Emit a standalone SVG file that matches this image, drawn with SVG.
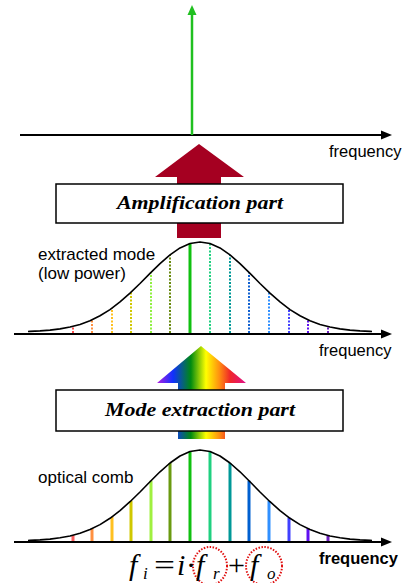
<svg xmlns="http://www.w3.org/2000/svg" width="409" height="583" viewBox="0 0 409 583">
<defs>
<linearGradient id="rainbow" gradientUnits="userSpaceOnUse" x1="157" y1="0" x2="246" y2="0">
<stop offset="0" stop-color="#B020E0"/>
<stop offset="0.18" stop-color="#1030FF"/>
<stop offset="0.38" stop-color="#008A10"/>
<stop offset="0.55" stop-color="#FFFF00"/>
<stop offset="0.7" stop-color="#FF9010"/>
<stop offset="0.82" stop-color="#F02828"/>
<stop offset="1" stop-color="#E0108A"/>
</linearGradient>
</defs>
<style>
.axis{stroke:#000;stroke-width:2;fill:none}
.head{fill:#000}
.lbl{font-family:"Liberation Sans",Arial,sans-serif;font-size:17px;fill:#000}
.freq{font-family:"Liberation Sans",Arial,sans-serif;font-size:16.5px;fill:#000}
.box{fill:#fff;stroke:#000;stroke-width:1.5}
.boxtxt{font-family:"Liberation Serif","Times New Roman",serif;font-size:18px;font-weight:bold;font-style:italic;fill:#000}
.curve{fill:none;stroke:#000;stroke-width:1.6;stroke-linejoin:round}
.dot{stroke-width:2;stroke-dasharray:2 1.5;fill:none}
.comb{stroke-width:3;fill:none}
.math{font-family:"Liberation Serif","Times New Roman",serif;font-size:30px;fill:#000}
.it{font-style:italic}
.sub{font-size:17px;font-style:italic}
.circ{fill:none;stroke:#E01010;stroke-width:2;stroke-dasharray:1.5 1.5}
</style>

<g id="top-spectrum">
<line class="axis" x1="20" y1="135" x2="383" y2="135"/>
<polygon class="head" points="381,130.5 392,135 381,139.5"/>
<line x1="192" y1="135" x2="192" y2="13" stroke="#20C020" stroke-width="2.5"/>
<polygon points="192,5 187.5,15 196.5,15" fill="#20C020"/>
<text class="freq" x="329" y="157">frequency</text>
</g>

<g id="amp-arrow">
<polygon fill="#A50021" points="199,144 244,177 221,177 221,238 177,238 177,177 155,177"/>
</g>

<g id="amplification-box">
<rect class="box" x="56" y="184" width="287" height="39"/>
<text class="boxtxt" x="117" y="209" textLength="166" lengthAdjust="spacingAndGlyphs">Amplification part</text>
</g>

<g id="extracted-spectrum">
<line class="axis" x1="14" y1="334" x2="383" y2="334"/>
<polygon class="head" points="381,329.5 392,334 381,338.5"/>
<line class="dot" stroke="#FF5050" x1="73" y1="333" x2="73" y2="326.3"/>
<line class="dot" stroke="#FF9040" x1="92" y1="333" x2="92" y2="319.8"/>
<line class="dot" stroke="#FFC020" x1="112" y1="333" x2="112" y2="308.1"/>
<line class="dot" stroke="#D0C800" x1="131" y1="333" x2="131" y2="292.2"/>
<line class="dot" stroke="#90F040" x1="151" y1="333" x2="151" y2="272.4"/>
<line class="dot" stroke="#6A8A10" x1="170" y1="333" x2="170" y2="254.9"/>
<line stroke="#10C010" stroke-width="3" x1="190" y1="333" x2="190" y2="243.5"/>
<line class="dot" stroke="#20D080" x1="210" y1="333" x2="210" y2="243.5"/>
<line class="dot" stroke="#009898" x1="230" y1="333" x2="230" y2="254.9"/>
<line class="dot" stroke="#1060D0" x1="249" y1="333" x2="249" y2="272.4"/>
<line class="dot" stroke="#3090FF" x1="269" y1="333" x2="269" y2="292.2"/>
<line class="dot" stroke="#4040FF" x1="289" y1="333" x2="289" y2="308.9"/>
<line class="dot" stroke="#6010F0" x1="308" y1="333" x2="308" y2="319.8"/>
<line class="dot" stroke="#7020C0" x1="328" y1="333" x2="328" y2="326.6"/>
<polyline class="curve" points="28,331.5 30,331.4 40,330.9 50,330.1 60,328.9 70,327 80,324.4 90,320.7 100,315.8 110,309.6 120,301.9 130,293.1 140,283.5 150,273.4 160,263.6 170,254.9 180,247.9 190,243.5 200,242 210,243.5 220,247.9 230,254.9 240,263.6 250,273.4 260,283.5 270,293.1 280,301.9 290,309.6 300,315.8 310,320.7 320,324.4 330,327 340,328.9 350,330.1 360,330.9 370,331.4 372,331.5"/>
<text class="lbl" x="38" y="260">extracted mode</text>
<text class="lbl" x="38" y="279">(low power)</text>
<text class="freq" x="319" y="356">frequency</text>
</g>

<g id="rainbow-arrow">
<polygon fill="url(#rainbow)" points="201,346 246,383 225,383 225,439 178,439 178,383 157,383"/>
</g>

<g id="mode-extraction-box">
<rect class="box" x="56" y="390" width="287" height="41"/>
<text class="boxtxt" x="105" y="416" textLength="190" lengthAdjust="spacingAndGlyphs">Mode extraction part</text>
</g>

<g id="optical-comb">
<line class="axis" x1="14" y1="542" x2="383" y2="542"/>
<polygon class="head" points="381,537.5 392,542 381,546.5"/>
<line class="comb" stroke="#FF6060" x1="73" y1="541" x2="73" y2="535.3"/>
<line class="comb" stroke="#FF9040" x1="92" y1="541" x2="92" y2="528.7"/>
<line class="comb" stroke="#FFC020" x1="112" y1="541" x2="112" y2="516.9"/>
<line class="comb" stroke="#D0C800" x1="131" y1="541" x2="131" y2="500.8"/>
<line class="comb" stroke="#A0F040" x1="151" y1="541" x2="151" y2="480.7"/>
<line class="comb" stroke="#6A9A10" x1="170" y1="541" x2="170" y2="463"/>
<line class="comb" stroke="#10C010" x1="190" y1="541" x2="190" y2="451.5"/>
<line class="comb" stroke="#20D080" x1="210" y1="541" x2="210" y2="451.5"/>
<line class="comb" stroke="#009898" x1="230" y1="541" x2="230" y2="463"/>
<line class="comb" stroke="#0060D0" x1="249" y1="541" x2="249" y2="480.7"/>
<line class="comb" stroke="#3090FF" x1="269" y1="541" x2="269" y2="500.8"/>
<line class="comb" stroke="#4040FF" x1="289" y1="541" x2="289" y2="517.6"/>
<line class="comb" stroke="#6010F0" x1="308" y1="541" x2="308" y2="528.7"/>
<line class="comb" stroke="#7020C0" x1="328" y1="541" x2="328" y2="535.5"/>
<polyline class="curve" points="28,540.5 30,540.4 40,539.9 50,539.1 60,537.8 70,536 80,533.3 90,529.5 100,524.6 110,518.3 120,510.6 130,501.7 140,492 150,481.8 160,471.8 170,463 180,456 190,451.5 200,450 210,451.5 220,456 230,463 240,471.8 250,481.8 260,492 270,501.7 280,510.6 290,518.3 300,524.6 310,529.5 320,533.3 330,536 340,537.8 350,539.1 360,539.9 370,540.4 372,540.5"/>
<text class="lbl" x="38" y="483">optical comb</text>
<text class="freq" x="319" y="564" font-weight="bold">frequency</text>
</g>

<g id="formula">
<ellipse class="circ" cx="210" cy="566" rx="17" ry="19"/>
<ellipse class="circ" cx="264" cy="566" rx="18" ry="19"/>
<text class="math it" x="129" y="575">f</text>
<text class="math sub" x="143" y="579">i</text>
<text class="math" x="154" y="575" textLength="21" lengthAdjust="spacingAndGlyphs">=</text>
<text class="math it" x="177" y="575">i</text>
<text class="math" x="186" y="575">·</text>
<text class="math it" x="196" y="575">f</text>
<text class="math sub" x="213" y="579">r</text>
<text class="math" x="228" y="575" textLength="17" lengthAdjust="spacingAndGlyphs">+</text>
<text class="math it" x="250" y="575">f</text>
<text class="math sub" x="267" y="579">o</text>
</g>
</svg>
